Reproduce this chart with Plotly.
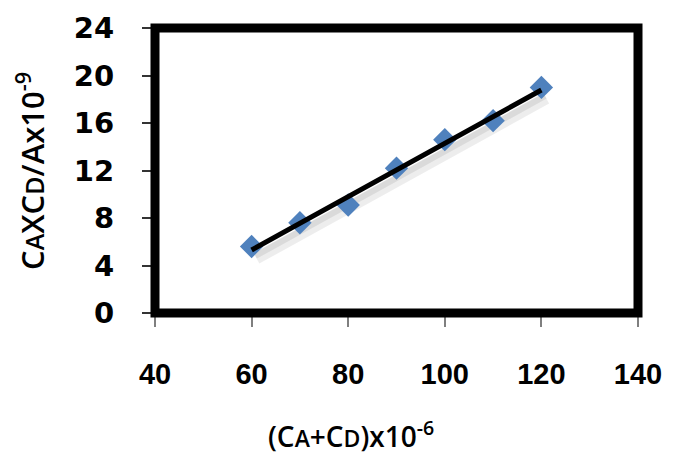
import numpy as np
import plotly.graph_objects as go

x_vals = [60, 70, 80, 90, 100, 110, 120]
y_vals = [5.6, 7.6, 9.1, 12.2, 14.6, 16.2, 19.0]
x_ticks = [40, 60, 80, 100, 120, 140]
y_ticks = [0, 4, 8, 12, 16, 20, 24]

slope, intercept = np.polyfit(x_vals, y_vals, 1)
fit_x = np.array([min(x_vals), max(x_vals)])
fit_y = slope * fit_x + intercept

fig = go.Figure()
# soft shadow under trend line
fig.add_trace(go.Scatter(x=fit_x + 1.0, y=fit_y - 0.7, mode="lines",
                         line=dict(color="rgba(0,0,0,0.07)", width=12),
                         hoverinfo="skip", showlegend=False))
fig.add_trace(go.Scatter(x=fit_x + 0.8, y=fit_y - 0.5, mode="lines",
                         line=dict(color="rgba(0,0,0,0.08)", width=6),
                         hoverinfo="skip", showlegend=False))
fig.add_trace(go.Scatter(x=x_vals, y=y_vals, mode="markers",
                         marker=dict(symbol="diamond", size=18, color="#4F81BD"),
                         showlegend=False))
fig.add_trace(go.Scatter(x=fit_x, y=fit_y, mode="lines",
                         line=dict(color="black", width=5), showlegend=False))

fig.add_shape(type="rect", xref="paper", yref="paper", x0=0, y0=0, x1=1, y1=1,
              line=dict(color="black", width=9), layer="above")

fig.update_layout(
    width=688, height=453,
    margin=dict(l=155, r=50, t=28, b=140),
    paper_bgcolor="white", plot_bgcolor="white",
    xaxis=dict(range=[40, 140], tickvals=x_ticks, showgrid=False, zeroline=False,
               ticks="outside", ticklen=13, tickcolor="#7f7f7f", tickwidth=1.5,
               ticklabelstandoff=22,
               tickfont=dict(family="Liberation Sans", size=29, color="black", weight="bold")),
    yaxis=dict(range=[0, 24], tickvals=y_ticks, showgrid=False, zeroline=False,
               ticks="outside", ticklen=12, tickcolor="#333333", tickwidth=1.5,
               ticklabelstandoff=22,
               tickfont=dict(family="DejaVu Sans", size=29, color="black", weight="bold")),
    annotations=[
        dict(text="C<span style='font-size:25px'>A</span>XC<span style='font-size:25px'>D</span>/Ax10<sup>-9</sup>",
             xref="paper", yref="paper", x=-0.258, y=0.5, textangle=-90, showarrow=False,
             xanchor="center", yanchor="middle",
             font=dict(family="Open Sans", size=31, color="black", weight=600)),
        dict(text="(C<span style='font-size:23px'>A</span>+C<span style='font-size:23px'>D</span>)x10<sup>-6</sup>",
             xref="paper", yref="paper", x=0.405, y=-0.425, showarrow=False,
             xanchor="center", yanchor="middle",
             font=dict(family="Open Sans", size=28, color="black", weight=600)),
    ],
)

fig.write_html("out.html")
